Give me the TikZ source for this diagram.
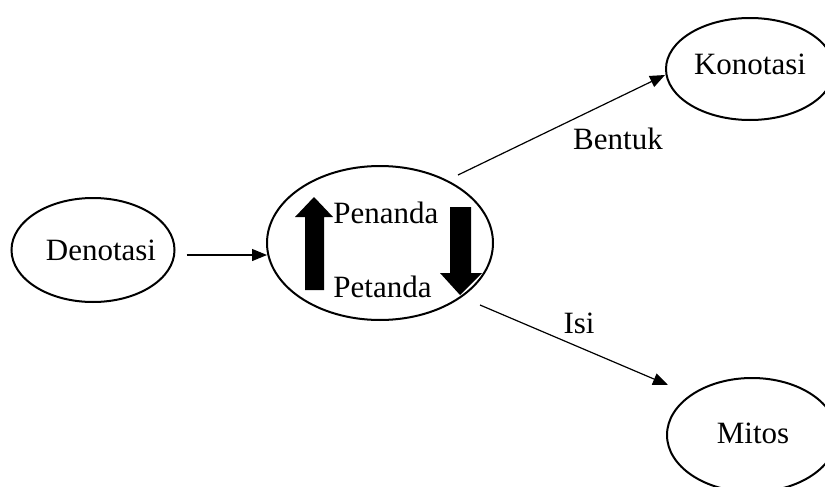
\documentclass[tikz,border=0pt]{standalone}
\usepackage{fontspec}
\setmainfont{Liberation Serif}
\usetikzlibrary{shapes.geometric,arrows.meta}
\begin{document}
\begin{tikzpicture}[x=0.5pt,y=-0.5pt,
  oval/.style={draw,ellipse,line width=1pt,inner sep=0pt},
  word/.style={inner sep=0pt,anchor=base,font=\fontsize{15.5}{18}\selectfont},
  link/.style={line width=0.6pt,-{Triangle[length=7.5pt,width=6pt]}},
  blockarrow/.style={fill=black}]
\useasboundingbox (0,0) rectangle (825,487);

% ovals
\node[oval,minimum width=81.5pt,minimum height=52pt] (den) at (93,250) {};
\node[oval,minimum width=113pt,minimum height=77pt] (cen) at (380,243) {};
\node[oval,minimum width=84pt,minimum height=51pt] (kon) at (750,69) {};
\node[oval,minimum width=85pt,minimum height=57pt] (mit) at (752,435) {};

% texts
\node[word] (dentext) at (101,260) {Denotasi};
\node[word] (kontext) at (750,75) {Konotasi};
\node[word] (mittext) at (753,443) {Mitos};
\node[word,anchor=base west] (penanda) at (333,223) {Penanda};
\node[word,anchor=base west] (petanda) at (333,297) {Petanda};
\node[word] (bentuk) at (618,149) {Bentuk};
\node[word] (isi) at (579,333) {Isi};

% block arrows inside the central oval
\fill[blockarrow] (314,197) -- (333,217) -- (324,217) -- (324,290)
  -- (305,290) -- (305,217) -- (295,217) -- cycle;
\fill[blockarrow] (450,207) -- (471,207) -- (471,273) -- (482,273)
  -- (460,295) -- (440,273) -- (450,273) -- cycle;

% connectors
\draw[link] ([shift={(11,5)}]den.east) -- ([shift={(1,12)}]cen.west);
\draw[link] ([shift={(78,-68)}]cen.center) -- ([shift={(-85,6)}]kon.center);
\draw[link] ([shift={(100,62)}]cen.center) -- ([shift={(-84,-50)}]mit.center);
\end{tikzpicture}
\end{document}
